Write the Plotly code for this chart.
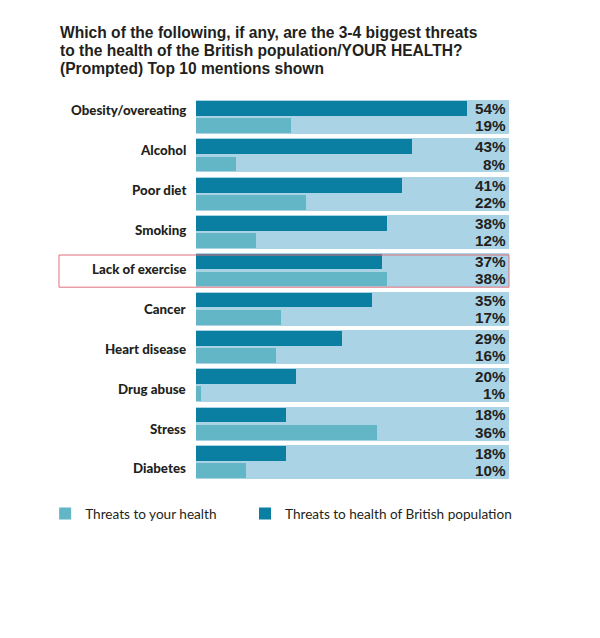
import plotly.graph_objects as go

categories = ["Obesity/overeating", "Alcohol", "Poor diet", "Smoking", "Lack of exercise",
              "Cancer", "Heart disease", "Drug abuse", "Stress", "Diabetes"]
british_pop = [54, 43, 41, 38, 37, 35, 29, 20, 18, 18]
your_health = [19, 8, 22, 12, 38, 17, 16, 1, 36, 10]
series_names = ["Threats to your health", "Threats to health of British population"]
highlight = "Lack of exercise"
title_lines = ["Which of the following, if any, are the 3-4 biggest threats",
               "to the health of the British population/YOUR HEALTH?",
               "(Prompted) Top 10 mentions shown"]

DARK = "#0b7fa2"
LIGHT = "#63b6c6"
BG = "#aad3e6"
TXT = "#231f20"
FONT = "Lato"
FONT2 = "Liberation Sans"

XMAX = 62.35
OFF = 0.225
W = 0.385
LABEL_START, LABEL_STEP = -0.18, 1.039
PLOT_TOP, PLOT_H = 98, 383
idx = list(range(len(categories)))

fig = go.Figure()
fig.add_bar(y=idx, x=[XMAX] * len(idx), orientation="h", width=0.89,
            marker=dict(color=BG, line_width=0), showlegend=False, hoverinfo="skip")
fig.add_bar(y=[i + OFF for i in idx], x=your_health, orientation="h", width=W,
            marker=dict(color=LIGHT, line_width=0), name=series_names[0], legend="legend")
fig.add_bar(y=[i - OFF for i in idx], x=british_pop, orientation="h", width=W,
            marker=dict(color=DARK, line_width=0), name=series_names[1], legend="legend2")

ann = []
pct_font = dict(family=FONT2, size=15.3, color=TXT, weight="bold")
for i, c in enumerate(categories):
    ann.append(dict(x=-0.0256, xref="paper", y=LABEL_START + i * LABEL_STEP, yref="y",
                    text=c, showarrow=False, xanchor="right", yanchor="middle",
                    font=dict(family=FONT, size=13.3, color=TXT, weight=900)))
    ann.append(dict(x=0.993, xref="paper", y=i - OFF, yref="y", text=f"{british_pop[i]}%",
                    showarrow=False, xanchor="right", yanchor="middle",
                    borderpad=0, font=pct_font))
    ann.append(dict(x=0.993, xref="paper", y=i + OFF, yref="y", text=f"{your_health[i]}%",
                    showarrow=False, xanchor="right", yanchor="middle",
                    borderpad=0, font=pct_font))

for k, line in enumerate(title_lines):
    cy = 32 + 18 * k
    ann.append(dict(x=(59 - 196) / 313, xref="paper",
                    y=(PLOT_TOP + PLOT_H - cy) / PLOT_H, yref="paper", text=line,
                    showarrow=False, xanchor="left", yanchor="middle", align="left",
                    borderpad=0,
                    font=dict(family=FONT2, size=15.6, color=TXT, weight="bold")))

hi = categories.index(highlight)
shapes = [dict(type="rect", xref="paper", yref="y", x0=-0.4377, x1=1.0,
               y0=hi - 0.40, y1=hi + 0.44, line=dict(color="#e0707a", width=1),
               fillcolor="rgba(0,0,0,0)", layer="above")]

leg_common = dict(orientation="h", xanchor="left", y=-0.045, yanchor="top",
                  font=dict(family=FONT, size=13.6, color=TXT), bgcolor="rgba(0,0,0,0)")

fig.update_layout(
    width=600, height=638,
    margin=dict(l=196, r=91, t=PLOT_TOP, b=638 - PLOT_TOP - PLOT_H),
    paper_bgcolor="white", plot_bgcolor="white",
    barmode="overlay", bargap=0,
    xaxis=dict(range=[0, XMAX], visible=False, fixedrange=True),
    yaxis=dict(range=[9.5, -0.5], visible=False, fixedrange=True),
    annotations=ann, shapes=shapes,
    showlegend=True,
    legend=dict(x=-0.482, **leg_common),
    legend2=dict(x=(245 - 196) / 313, **leg_common),
)
fig.write_html("out.html")
